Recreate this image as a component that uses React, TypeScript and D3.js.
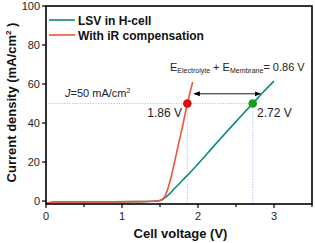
import React from "react";
import * as d3 from "d3";

const xTicks = [0, 1, 2, 3];
const xMinorTicks = [0.5, 1.5, 2.5, 3.5];
const yTicks = [0, 20, 40, 60, 80, 100];

// LSV in H-cell (teal)
const lsvX = [0, 0.05, 0.1, 0.3, 0.6, 0.9, 1.2, 1.4, 1.5, 1.55, 1.6, 1.7, 1.8, 1.9, 2.0, 2.2, 2.4, 2.6, 2.72, 2.85, 3.0];
const lsvY = [-1.3, -0.8, -0.5, -0.4, -0.4, -0.4, -0.3, -0.1, 0.3, 1.3, 2.8, 6.8, 10.8, 14.8, 19, 27.8, 36.5, 45, 50, 55.5, 61.5];

// With iR compensation (red)
const irX = [0, 0.05, 0.1, 0.3, 0.6, 0.9, 1.2, 1.4, 1.5, 1.55, 1.6, 1.65, 1.7, 1.75, 1.8, 1.86, 1.93];
const irY = [-1.3, -0.8, -0.5, -0.4, -0.4, -0.4, -0.3, -0.1, 0.3, 1.5, 6, 13, 21.5, 30.2, 39, 50, 61];

const markerJ = 50;
const markerIrX = 1.86;
const markerLsvX = 2.72;
const arrowY = 55;
const arrowX = [1.95, 2.82];

const W = 315;
const H = 243;
const font = "'Liberation Sans', Arial, sans-serif";
const teal = "#0a8a84";
const red = "#f0553a";
const dotColor = "#b3c4ec";

export default function App() {
  const x = d3.scaleLinear().domain([0, 3.5]).range([46, 312]);
  const y = d3.scaleLinear().domain([-1.5, 100]).range([204, 6]);
  const line = d3
    .line<[number, number]>()
    .x((d) => x(d[0]))
    .y((d) => y(d[1]))
    .curve(d3.curveMonotoneX);
  const lsvPath = line(lsvX.map((v, i) => [v, lsvY[i]]) as [number, number][]) || "";
  const irPath = line(irX.map((v, i) => [v, irY[i]]) as [number, number][]) || "";
  const [x0, x1] = x.range();
  const [yb, yt] = y.range();

  return (
    <svg
      width={W}
      height={H}
      style={{ position: "absolute", left: 0, top: 0, background: "#fff" }}
      fontFamily={font}
    >
      <defs>
        <marker id="ah" viewBox="0 0 10 10" refX="9" refY="5" markerWidth="7" markerHeight="7" orient="auto-start-reverse">
          <path d="M0,1 L10,5 L0,9 z" fill="#000" />
        </marker>
      </defs>

      {/* dotted guide lines */}
      <line x1={x0} x2={x(markerLsvX)} y1={y(markerJ)} y2={y(markerJ)} stroke={dotColor} strokeWidth={1} strokeDasharray="1.2,1.4" />
      <line x1={x(markerIrX)} x2={x(markerIrX)} y1={y(markerJ)} y2={yb} stroke={dotColor} strokeWidth={1} strokeDasharray="1.2,1.4" />
      <line x1={x(markerLsvX)} x2={x(markerLsvX)} y1={y(markerJ)} y2={yb} stroke={dotColor} strokeWidth={1} strokeDasharray="1.2,1.4" />

      {/* curves */}
      <path d={lsvPath} fill="none" stroke={teal} strokeWidth={1.6} />
      <path d={irPath} fill="none" stroke={red} strokeWidth={1.6} />

      {/* markers */}
      <circle cx={x(markerIrX)} cy={y(markerJ)} r={4.3} fill="#dd0d0d" />
      <circle cx={x(markerLsvX)} cy={y(markerJ)} r={4.3} fill="#13a01a" />

      {/* arrow */}
      <line
        x1={x(arrowX[0])}
        x2={x(arrowX[1])}
        y1={y(arrowY)}
        y2={y(arrowY)}
        stroke="#000"
        strokeWidth={0.9}
        markerStart="url(#ah)"
        markerEnd="url(#ah)"
      />

      {/* axis box */}
      <rect x={x0} y={yt} width={x1 - x0} height={yb - yt} fill="none" stroke="#000" strokeWidth={1.6} />

      {/* y ticks */}
      {yTicks.map((t) => (
        <g key={"y" + t}>
          <line x1={x0 - 4} x2={x0} y1={y(t)} y2={y(t)} stroke="#000" strokeWidth={1.2} />
          <text x={x0 - 6} y={y(t) + 4} textAnchor="end" fontSize={11} fill="#222">
            {t}
          </text>
        </g>
      ))}

      {/* x ticks */}
      {xTicks.map((t) => (
        <g key={"x" + t}>
          <line x1={x(t)} x2={x(t)} y1={yb} y2={yb + 4} stroke="#000" strokeWidth={1.2} />
          <text x={x(t)} y={yb + 16} textAnchor="middle" fontSize={11} fill="#222">
            {t}
          </text>
        </g>
      ))}
      {xMinorTicks.map((t) => (
        <line key={"m" + t} x1={x(t)} x2={x(t)} y1={yb} y2={yb + 3} stroke="#000" strokeWidth={1.2} />
      ))}

      {/* axis labels */}
      <text x={180.5} y={238} textAnchor="middle" fontSize={13} fontWeight="bold" fill="#111">
        Cell voltage (V)
      </text>
      <text transform="translate(16,102.5) rotate(-90)" textAnchor="middle" fontSize={13} fontWeight="bold" fill="#111">
        Current density (mA/cm
        <tspan fontSize={8} dy={-5}>2</tspan>
        <tspan dy={5}> )</tspan>
      </text>

      {/* legend */}
      <line x1={49} x2={75} y1={20} y2={20} stroke={teal} strokeWidth={1.6} />
      <text x={78} y={24.5} fontSize={12} fontWeight="bold" fill="#111">
        LSV in H-cell
      </text>
      <line x1={49} x2={75} y1={35} y2={35} stroke={red} strokeWidth={1.6} />
      <text x={78} y={39.5} fontSize={12} fontWeight="bold" fill="#111">
        With iR compensation
      </text>

      {/* annotations */}
      <text x={170} y={71} fontSize={11} fill="#222">
        E<tspan fontSize={7} dy={2}>Electrolyte</tspan>
        <tspan dy={-2}> + E</tspan>
        <tspan fontSize={7} dy={2}>Membrane</tspan>
        <tspan dy={-2}>= 0.86 V</tspan>
      </text>
      <text x={65} y={97} fontSize={11} fill="#222">
        <tspan fontStyle="italic">J</tspan>=50 mA/cm
        <tspan fontSize={7} dy={-4}>2</tspan>
      </text>
      <text x={182} y={117} textAnchor="end" fontSize={12} fill="#222">
        1.86 V
      </text>
      <text x={257} y={117} fontSize={12} fill="#222">
        2.72 V
      </text>
    </svg>
  );
}
